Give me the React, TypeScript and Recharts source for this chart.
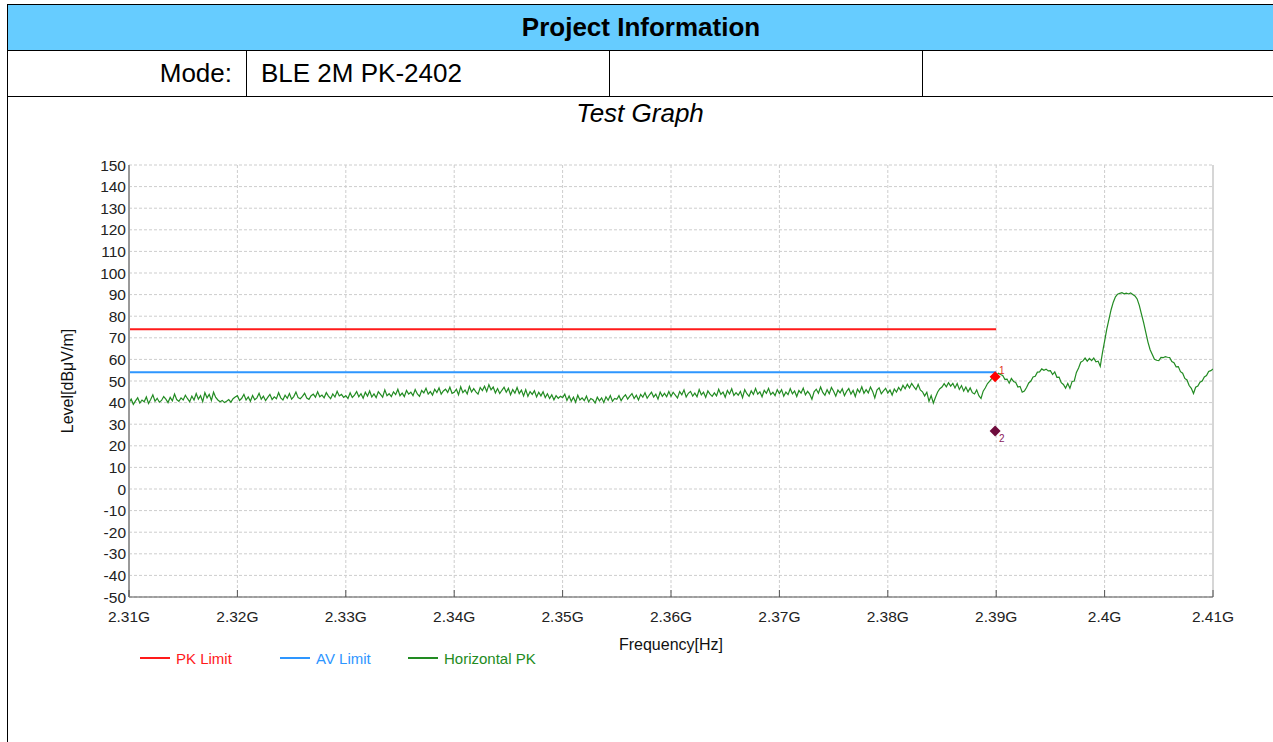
import React from "react";
import {
  ComposedChart,
  Line,
  Scatter,
  XAxis,
  YAxis,
  CartesianGrid,
  ReferenceLine,
} from "recharts";

// sweep grid of the trace (GHz)
const FREQ_START = 2.31;
const FREQ_STEP = 0.0002;

// Horizontal PK trace, dBµV/m, one value per sweep point (2.31 .. 2.41 GHz)
const HORIZONTAL_PK = [
  40.0, 41.6, 39.2, 40.8, 42.2, 39.8, 41.2, 40.4, 42.6, 39.6,
  41.4, 43.6, 40.6, 42.0, 40.2, 41.0, 42.8, 41.6, 40.0, 42.4,
  40.8, 44.0, 41.4, 40.6, 42.2, 41.2, 43.4, 41.8, 40.4, 43.0,
  41.2, 44.2, 41.6, 43.2, 40.4, 44.6, 42.2, 43.8, 41.0, 44.8,
  42.4, 41.2, 40.4, 41.0, 40.0, 40.6, 41.4, 40.2, 41.8, 42.6,
  43.2, 41.0, 42.0, 43.8, 41.2, 42.6, 40.6, 43.3, 41.3, 42.2,
  44.3, 41.6, 43.0, 40.9, 42.4, 43.8, 41.4, 42.7, 41.8, 44.6,
  42.2, 41.2, 43.4, 42.0, 44.2, 41.6, 42.8, 44.9, 42.3, 41.8,
  42.9, 44.3, 42.1, 41.5, 43.2, 43.9, 42.5, 45.0, 42.7, 43.5,
  42.2, 44.6, 43.0, 41.8, 44.0, 42.6, 45.2, 43.1, 43.8, 42.4,
  43.2, 41.9, 44.5, 42.4, 43.5, 45.1, 42.7, 44.1, 42.0, 44.8,
  43.0, 45.4, 42.6, 44.0, 42.3, 45.0, 43.8, 42.5, 45.9, 43.2,
  44.1, 42.8, 45.0, 43.7, 46.2, 43.2, 44.4, 42.8, 45.6, 43.9,
  44.8, 43.2, 46.0, 44.0, 42.9, 45.6, 44.5, 46.6, 43.9, 45.1,
  43.5, 46.2, 44.7, 46.8, 43.9, 45.4, 46.2, 44.7, 47.1, 44.3,
  44.8, 46.2, 43.6, 47.3, 44.6, 45.8, 44.0, 47.5, 44.9, 46.5,
  45.0, 43.9, 47.0, 45.6, 47.6, 45.1, 48.3, 45.9, 47.2, 44.5,
  46.5, 44.2, 45.7, 47.1, 44.8, 46.6, 43.6, 46.0, 44.4, 47.0,
  44.2, 45.8, 43.1, 46.0, 42.9, 45.1, 43.8, 45.5, 42.6, 44.8,
  43.1, 45.0, 42.3, 44.1, 41.9, 43.6, 41.3, 43.2, 42.0, 42.9,
  42.3, 43.9, 41.0, 43.1, 40.6, 42.5, 40.2, 43.4, 41.2, 42.2,
  40.9, 43.0, 40.3, 41.9, 41.3, 39.8, 42.5, 40.8, 42.2, 40.1,
  42.7, 41.1, 43.3, 40.6, 41.9, 41.5, 43.2, 40.9, 42.5, 43.6,
  41.6, 43.0, 44.2, 41.9, 43.4, 41.2, 43.8, 42.5, 44.6, 42.0,
  43.5, 44.8, 42.6, 43.9, 41.6, 44.9, 42.9, 44.3, 42.7, 45.1,
  42.9, 44.8, 43.5, 42.1, 45.1, 43.6, 45.9, 42.6, 44.3, 45.2,
  43.0, 44.4, 42.7, 46.0, 43.6, 44.8, 42.4, 45.4, 43.9, 42.9,
  44.5, 43.1, 46.2, 43.8, 44.9, 42.5, 45.6, 44.0, 46.4, 43.3,
  44.6, 43.4, 45.2, 42.3, 46.0, 44.1, 42.9, 45.4, 43.8, 46.5,
  43.9, 45.0, 42.7, 45.7, 44.3, 46.6, 43.7, 44.8, 43.2, 46.0,
  44.2, 46.0, 43.0, 44.9, 43.7, 46.5, 44.1, 45.4, 42.8, 45.6,
  44.4, 46.7, 43.6, 45.2, 43.9, 41.6, 45.0, 46.2, 44.3, 47.2,
  44.7, 43.4, 46.0, 44.1, 47.0, 45.3, 43.0, 45.8, 44.5, 46.4,
  43.2, 45.2, 46.5, 43.9, 45.6, 42.8, 46.2, 44.7, 47.3, 44.3,
  46.0, 44.5, 47.2, 45.2, 42.2, 45.8, 46.8, 44.1, 45.4, 46.6,
  44.4, 45.8, 43.5, 46.3, 44.9, 47.0, 45.6, 48.0, 46.4, 48.5,
  46.8, 48.9, 47.4, 46.0, 48.4, 45.9, 45.0, 43.1, 44.8, 40.6,
  43.2, 39.8, 42.5, 44.9, 46.4, 47.2, 48.8, 47.3, 49.2, 47.6,
  48.9, 46.8, 48.8, 46.1, 47.9, 45.3, 47.2, 45.0, 46.8, 44.6,
  44.0, 45.9, 43.2, 41.9, 45.3, 46.9, 48.8, 49.9, 51.2, 52.3,
  52.4, 53.6, 53.0, 52.6, 50.8, 50.9, 49.0, 51.2, 49.8, 49.3,
  47.2, 47.5, 44.8, 45.3, 47.0, 49.1, 50.0, 51.9, 52.2, 54.1,
  54.2, 55.6, 55.0, 55.5, 54.7, 54.8, 53.0, 54.2, 51.7, 51.8,
  49.2, 48.4, 46.7, 48.9, 46.6, 49.8, 50.0, 54.0, 56.0, 58.7,
  59.3, 60.6, 59.2, 60.5, 59.4, 60.6, 58.9, 59.2, 56.8, 63.0,
  68.5, 74.0, 78.5, 83.0, 86.5, 89.0, 90.2, 90.6, 90.9, 90.4,
  90.7, 90.3, 90.8, 90.1, 89.4, 88.0, 85.0, 81.0, 77.0, 72.5,
  68.0, 64.5, 62.3, 60.1, 59.6, 59.4, 60.9, 60.8, 61.3, 61.0,
  60.9, 59.0, 58.5, 56.6, 56.7, 54.3, 53.6, 51.2, 50.5, 47.9,
  46.6, 44.2, 47.1, 47.7, 49.4, 50.0, 51.9, 52.5, 54.4, 54.8,
  55.6,
];

const LIMIT_FREQS = [2.31, 2.39];
const PK_LIMIT = [74, 74];
const AV_LIMIT = [54, 54];

const MARKER_FREQS = [2.3899, 2.3899];
const MARKER_LEVELS = [52.0, 26.9];
const MARKER_LABELS = ["1", "2"];

const X_TICKS = [2.31, 2.32, 2.33, 2.34, 2.35, 2.36, 2.37, 2.38, 2.39, 2.4, 2.41];
const Y_TICKS = [-50, -40, -30, -20, -10, 0, 10, 20, 30, 40, 50, 60, 70, 80, 90, 100, 110, 120, 130, 140, 150];

const FONT = '"Liberation Sans", Arial, sans-serif';
const RED = "#ff1a1a";
const BLUE = "#2e96ff";
const GREEN = "#228b22";
const MARKER_STYLE = [
  { fill: "#ff0000", text: "#e03020", dx: 4, dy: -3 },
  { fill: "#6e0b3c", text: "#8a1a5c", dx: 4, dy: 11 },
];

const traceData = HORIZONTAL_PK.map((level, i) => ({ f: FREQ_START + i * FREQ_STEP, level }));
const pkData = LIMIT_FREQS.map((f, i) => ({ f, level: PK_LIMIT[i] }));
const avData = LIMIT_FREQS.map((f, i) => ({ f, level: AV_LIMIT[i] }));
const markerData = MARKER_FREQS.map((f, i) => ({ f, level: MARKER_LEVELS[i], label: MARKER_LABELS[i], idx: i }));

// tick marks point into the plot, labels sit below the axis
const XTick = (props: any) => {
  const { x, y, payload } = props;
  const axisY = y - 14;
  return (
    <g>
      <line x1={x} y1={axisY} x2={x} y2={axisY - 7} stroke="#555" />
      <text x={x} y={y} dy="0.71em" textAnchor="middle" fontSize={15.5} fill="#222" fontFamily={FONT}>
        {`${payload.value}G`}
      </text>
    </g>
  );
};

const Marker = (props: any) => {
  const { cx, cy, payload } = props;
  const s = MARKER_STYLE[payload.idx];
  const r = 5.5;
  return (
    <g>
      <polygon points={`${cx},${cy - r} ${cx + r},${cy} ${cx},${cy + r} ${cx - r},${cy}`} fill={s.fill} />
      <text x={cx + s.dx} y={cy + s.dy} fontSize={10} fill={s.text} fontFamily={FONT}>
        {payload.label}
      </text>
    </g>
  );
};

const legendItems = [
  { name: "PK Limit", color: RED, left: 140 },
  { name: "AV Limit", color: BLUE, left: 280 },
  { name: "Horizontal PK", color: GREEN, left: 408 },
];

export default function App() {
  const border = "1px solid #000";
  return (
    <div style={{ position: "absolute", left: 0, top: 0, width: 1273, height: 742, overflow: "hidden", fontFamily: FONT, background: "#fff" }}>
      {/* header table */}
      <div
        style={{
          position: "absolute", left: 7, top: 4, width: 1266, height: 45,
          background: "#66ccff", borderTop: border, borderLeft: border, borderBottom: border,
          display: "flex", alignItems: "center", justifyContent: "center",
          fontWeight: "bold", fontSize: 26, color: "#000",
        }}
      >
        Project Information
      </div>
      <div style={{ position: "absolute", left: 7, top: 50, width: 1266, height: 46, borderLeft: border, borderBottom: border, display: "flex", fontSize: 26 }}>
        <div style={{ width: 239, borderRight: border, display: "flex", alignItems: "center", justifyContent: "flex-end", paddingRight: 14, boxSizing: "border-box" }}>Mode:</div>
        <div style={{ width: 363, borderRight: border, display: "flex", alignItems: "center", paddingLeft: 14, boxSizing: "border-box" }}>BLE 2M PK-2402</div>
        <div style={{ width: 312, borderRight: border }} />
        <div style={{ flex: 1 }} />
      </div>
      <div style={{ position: "absolute", left: 7, top: 96, height: 646, borderLeft: border }} />

      <div style={{ position: "absolute", left: 7, top: 98, width: 1266, textAlign: "center", fontStyle: "italic", fontSize: 26, lineHeight: "30px" }}>
        Test Graph
      </div>

      <div
        style={{
          position: "absolute", left: 68, top: 381, transform: "translate(-50%, -50%) rotate(-90deg)",
          fontSize: 16, whiteSpace: "nowrap", color: "#111",
        }}
      >
        Level[dBμV/m]
      </div>

      <div style={{ position: "absolute", left: 0, top: 97 }}>
        <ComposedChart width={1273} height={600} margin={{ top: 68, right: 60, left: 69, bottom: 70 }}>
          <CartesianGrid stroke="#cdcdcd" strokeDasharray="3 2" />
          <XAxis
            dataKey="f"
            type="number"
            domain={[2.31, 2.41]}
            ticks={X_TICKS}
            allowDataOverflow
            height={30}
            tickSize={7}
            tickMargin={7}
            tickLine={false}
            tick={<XTick />}
            axisLine={{ stroke: "#555", strokeWidth: 1 }}
            label={{ value: "Frequency[Hz]", position: "bottom", offset: 12, fontSize: 16, fill: "#111", fontFamily: FONT }}
          />
          <YAxis
            type="number"
            domain={[-50, 150]}
            ticks={Y_TICKS}
            allowDataOverflow
            width={60}
            tickSize={2}
            tickMargin={1}
            tickLine={false}
            interval={0}
            tick={{ fontSize: 15.5, fill: "#222", fontFamily: FONT }}
            axisLine={{ stroke: "#999", strokeWidth: 2 }}
          />
          <ReferenceLine x={2.41} stroke="#d6d6d6" strokeWidth={2} />
          <Line data={traceData} dataKey="level" name="Horizontal PK" type="linear" stroke={GREEN} strokeWidth={1.2} dot={false} isAnimationActive={false} />
          <Line data={pkData} dataKey="level" name="PK Limit" type="linear" stroke={RED} strokeWidth={2} dot={false} isAnimationActive={false} />
          <Line data={avData} dataKey="level" name="AV Limit" type="linear" stroke={BLUE} strokeWidth={2} dot={false} isAnimationActive={false} />
          <Scatter data={markerData} dataKey="level" name="Markers" shape={<Marker />} isAnimationActive={false} />
        </ComposedChart>
      </div>

      {legendItems.map((it) => (
        <div key={it.name} style={{ position: "absolute", left: it.left, top: 648, height: 20, display: "flex", alignItems: "center", fontSize: 15, color: it.color }}>
          <span style={{ display: "inline-block", width: 30, height: 2, background: it.color, marginRight: 6 }} />
          {it.name}
        </div>
      ))}
    </div>
  );
}
